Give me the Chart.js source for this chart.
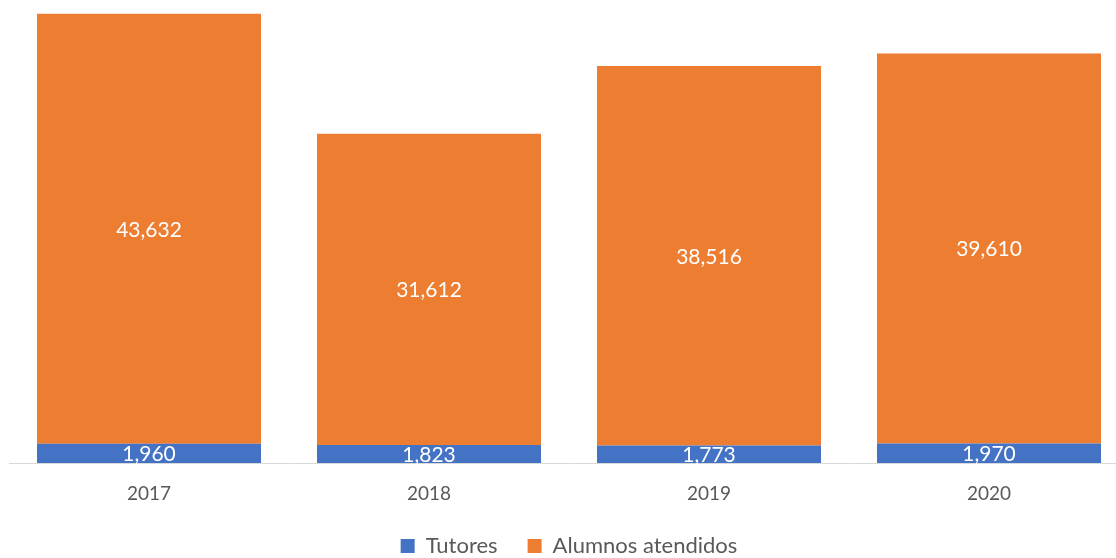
<!DOCTYPE html>
<html>
<head>
<meta charset="utf-8">
<script src="https://cdn.jsdelivr.net/npm/chart.js@4"></script>
<style>
  html, body { margin: 0; padding: 0; background: #fff; overflow: hidden; }
  #wrap { position: absolute; left: 0; top: 0; width: 1130px; height: 567px; }
</style>
</head>
<body>
<div id="wrap"><canvas id="grafica"></canvas></div>
<script>
// datos
var anios = ['2017', '2018', '2019', '2020'];
var tutores = [1960, 1823, 1773, 1970];
var alumnos = [43632, 31612, 38516, 39610];

// etiquetas blancas al centro de cada barra
var etiquetas = {
  id: 'etiquetas',
  afterDatasetsDraw: function(chart) {
    var ctx = chart.ctx;
    ctx.save();
    ctx.fillStyle = '#ffffff';
    ctx.font = '21px Lato';
    ctx.textAlign = 'center';
    ctx.textBaseline = 'middle';
    chart.data.datasets.forEach(function(ds, i) {
      chart.getDatasetMeta(i).data.forEach(function(bar, j) {
        var y = (bar.y + bar.base) / 2;
        ctx.fillText(ds.data[j].toLocaleString('en-US'), bar.x, y + 1);
      });
    });
    ctx.restore();
  }
};

var grafica = new Chart(document.getElementById('grafica').getContext('2d'), {
  type: 'bar',
  data: {
    labels: anios,
    datasets: [{
      label: 'Tutores',
      data: tutores,
      backgroundColor: '#4472C4'
    }, {
      label: 'Alumnos atendidos',
      data: alumnos,
      backgroundColor: '#ED7D31'
    }]
  },
  options: {
    responsive: true,
    maintainAspectRatio: false,
    animation: false,
    layout: { padding: { left: 9, right: 1, top: 0, bottom: 0 } },
    datasets: { bar: { categoryPercentage: 0.8, barPercentage: 1.0 } },
    scales: {
      x: {
        stacked: true,
        grid: { display: false },
        border: { color: '#d9d9d9', width: 1 },
        ticks: { color: '#595959', font: { family: 'Lato', size: 19 }, padding: 11 },
        afterFit: function(scale) { scale.height = 42; }
      },
      y: {
        stacked: true,
        display: false,
        min: 0,
        max: 47000
      }
    },
    plugins: {
      tooltip: { enabled: false },
      legend: {
        position: 'bottom',
        labels: {
          color: '#595959',
          font: { family: 'Lato', size: 22 },
          boxWidth: 14,
          boxHeight: 14,
          padding: 30
        }
      }
    }
  },
  plugins: [etiquetas]
});
</script>
</body>
</html>
